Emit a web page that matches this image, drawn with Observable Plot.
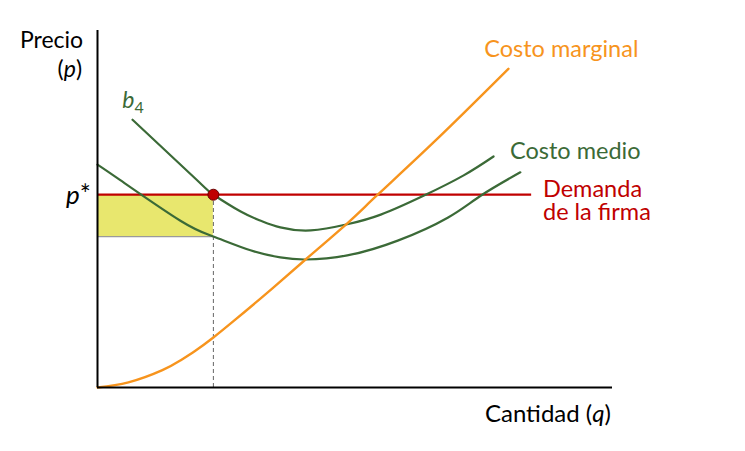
<!DOCTYPE html>
<html>
<head>
<meta charset="utf-8">
<script src="https://cdn.jsdelivr.net/npm/d3@7"></script>
<script src="https://cdn.jsdelivr.net/npm/@observablehq/plot@0.6"></script>
<style>
  html, body { margin: 0; padding: 0; background: #fff; }
  #chart svg { display: block; }
</style>
</head>
<body>
<div id="chart"></div>
<script>
// Quantity (q) and price (p) values
const acUpperQ = [0.68, 1.94, 2.25, 2.78, 3.17, 3.55, 4.14, 4.85, 5.50, 6.33, 7.11, 7.69];
const acUpperP = [5.25, 4.06, 3.78, 3.45, 3.27, 3.14, 3.08, 3.20, 3.39, 3.76, 4.16, 4.53];
const acLowerQ = [0, 0.45, 1.61, 2.25, 2.97, 3.55, 4.04, 4.85, 5.83, 6.80, 7.44, 8.21];
const acLowerP = [4.37, 4.06, 3.27, 2.96, 2.69, 2.55, 2.51, 2.59, 2.88, 3.33, 3.76, 4.22];
const mcQ = [0, 0.60, 1.26, 1.61, 1.90, 2.25, 2.64, 3.30, 4.04, 4.85, 5.44, 6.56, 7.98];
const mcP = [0, 0.10, 0.34, 0.53, 0.72, 0.98, 1.30, 1.86, 2.51, 3.22, 3.78, 4.84, 6.25];
const pStar = 3.78;
const qStar = 2.25;
const acAtQStar = 2.96;
const demandEnd = 8.43;
const xMax = 10, yMax = 7;

const zip = (qs, ps) => qs.map((q, i) => ({q, p: ps[i]}));
const acUpper = zip(acUpperQ, acUpperP);
const acLower = zip(acLowerQ, acLowerP);
const mc = zip(mcQ, mcP);

const ORANGE = "#F7941D", GREEN = "#3B6A37", RED = "#C00000", YELLOW = "#E8E76E";
const FONT = "Lato, 'Open Sans', sans-serif";

const plot = Plot.plot({
  width: 745, height: 451,
  marginLeft: 97, marginRight: 133, marginTop: 30, marginBottom: 64,
  x: {domain: [0, xMax], axis: null},
  y: {domain: [0, yMax], axis: null},
  style: {fontFamily: FONT, background: "#fff"},
  marks: [
    Plot.rect([{x1: 0, x2: qStar, y1: acAtQStar, y2: pStar}], {x1: "x1", x2: "x2", y1: "y1", y2: "y2", fill: YELLOW}),
    Plot.ruleY([acAtQStar], {x1: 0, x2: qStar, stroke: "#9a9a9a", strokeWidth: 1.2}),
    Plot.ruleX([qStar], {y1: 0, y2: pStar, stroke: "#666", strokeDasharray: "4,3", strokeWidth: 1}),
    Plot.ruleY([pStar], {x1: 0, x2: demandEnd, stroke: RED, strokeWidth: 2.2}),
    Plot.line(acLower, {x: "q", y: "p", stroke: GREEN, strokeWidth: 2.2, curve: "natural"}),
    Plot.line(acUpper, {x: "q", y: "p", stroke: GREEN, strokeWidth: 2.2, curve: "natural"}),
    Plot.line(mc, {x: "q", y: "p", stroke: ORANGE, strokeWidth: 2.4, curve: "natural"}),
    Plot.ruleX([0], {y1: 0, y2: yMax, stroke: "#000", strokeWidth: 2}),
    Plot.ruleY([0], {x1: 0, x2: xMax, stroke: "#000", strokeWidth: 2.2}),
    Plot.dot([{q: qStar, p: pStar}], {x: "q", y: "p", r: 5.5, fill: RED, stroke: "#6a0000", strokeWidth: 1})
  ]
});
document.getElementById("chart").appendChild(plot);

// Annotations (data coordinates); each line is a list of [text, italic, subscript] pieces
const labels = [
  {q: -0.27, p: 6.65, anchor: "end", color: "#000", size: 23, lines: [[["Precio"]]]},
  {q: -0.29, p: 6.08, anchor: "end", color: "#000", size: 23, lines: [[["("], ["p", true], [")"]]]},
  {q: 0.49, p: 5.48, anchor: "start", color: GREEN, size: 23, lines: [[["b", true], ["4", false, true]]]},
  {q: -0.12, p: 3.59, anchor: "end", color: "#000", size: 26, lines: [[["p", true], ["*"]]]},
  {q: 7.52, p: 6.47, anchor: "start", color: ORANGE, size: 23.5, lines: [[["Costo marginal"]]]},
  {q: 8.02, p: 4.47, anchor: "start", color: GREEN, size: 23.5, lines: [[["Costo medio"]]]},
  {q: 8.66, p: 3.73, anchor: "start", color: RED, size: 23.5, lines: [[["Demanda"]], [["de la firma"]]]},
  {q: 9.98, p: -0.69, anchor: "end", color: "#000", size: 24, lines: [[["Cantidad ("], ["q", true], [")"]]]}
];
const lineGap = 23.5;
const sx = plot.scale("x"), sy = plot.scale("y");
const svg = d3.select(plot);
for (const l of labels) {
  const x0 = sx.apply(l.q), y0 = sy.apply(l.p);
  const t = svg.append("text")
    .attr("text-anchor", l.anchor)
    .attr("fill", l.color)
    .style("font-family", FONT)
    .style("font-size", l.size + "px");
  l.lines.forEach((parts, i) => {
    let first = true;
    for (const [s, it, sub] of parts) {
      const ts = t.append("tspan").text(s);
      if (first) { ts.attr("x", x0).attr("y", y0 + i * lineGap); first = false; }
      if (it) ts.style("font-style", "italic");
      if (sub) ts.attr("dy", 5).style("font-size", "16px");
    }
  });
}
</script>
</body>
</html>
